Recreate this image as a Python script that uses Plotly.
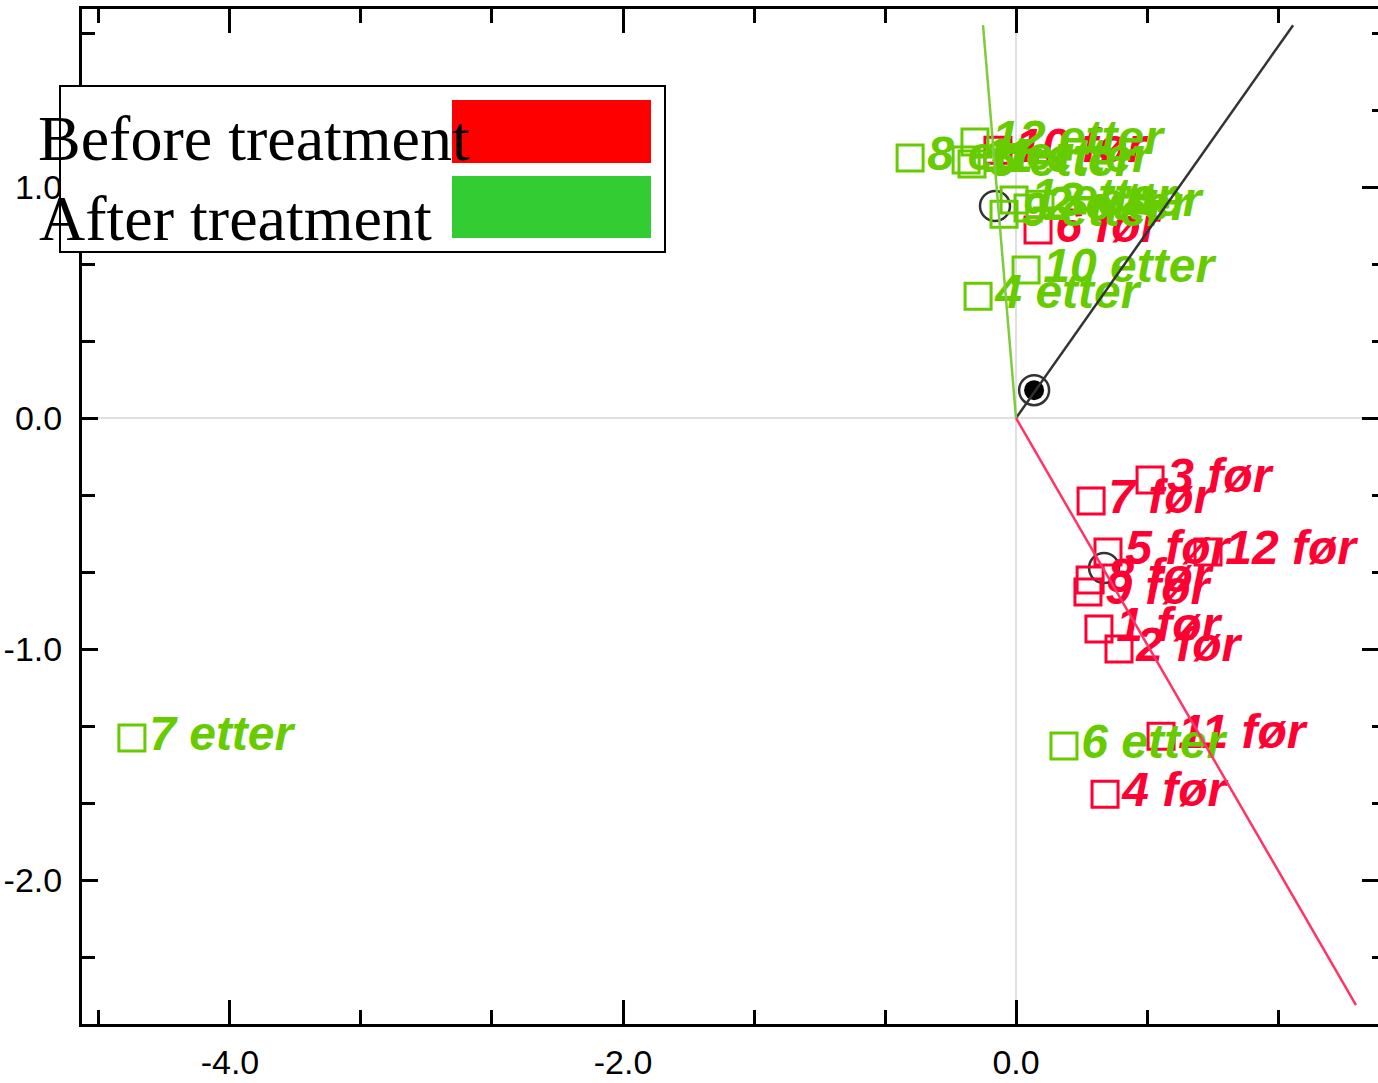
import plotly.graph_objects as go

# ---------------- data ----------------
before_labels = ["1 før", "2 før", "3 før", "4 før", "5 før", "6 før",
                 "7 før", "8 før", "9 før", "10 før", "11 før", "12 før"]
before_x = [0.422, 0.524, 0.682, 0.453, 0.468, 0.112, 0.382, 0.377, 0.366, -0.092, 0.738, 0.977]
before_y = [-0.913, -1.000, -0.268, -1.628, -0.580, 0.814, -0.359, -0.701, -0.753, 1.160, -1.377, -0.580]

after_labels = ["1 etter", "2 etter", "3 etter", "4 etter", "5 etter", "6 etter",
                "7 etter", "8 etter", "9 etter", "10 etter", "11 etter", "12 etter"]
after_x = [-0.010, 0.061, 0.122, -0.193, -0.224, 0.244, -4.499, -0.539, -0.061, 0.051, -0.254, -0.209]
after_y = [0.944, 0.909, 0.926, 0.528, 1.100, -1.420, -1.385, 1.126, 0.883, 0.641, 1.117, 1.195]

# loading vectors (end points) and loading markers
vec_end_x = [1.410, -0.168, 1.730]
vec_end_y = [1.701, 1.701, -2.541]
vec_colors = ["#333333", "#7fcc3a", "#ff3366"]
load_x = [0.092, -0.107, 0.448]
load_y = [0.121, 0.918, -0.649]

# axis tick labels
x_tickvals = [-4, -2, 0]
x_ticktext = ["-4.0", "-2.0", "0.0"]
y_tickvals = [-2, -1, 0, 1]
y_ticktext = ["-2.0", "-1.0", "0.0", "1.0"]

legend_names = ["Before treatment", "After treatment"]
legend_colors = ["#ff0000", "#33cc33"]

RED = "#ff0033"
GREEN = "#66cc00"

X_RANGE = [-4.753, 1.842]
Y_RANGE = [-2.623, 1.771]

# ---------------- figure ----------------
fig = go.Figure()

for ex, ey, c in zip(vec_end_x, vec_end_y, vec_colors):
    fig.add_trace(go.Scatter(x=[0, ex], y=[0, ey], mode="lines",
                             line=dict(color=c, width=2.5), hoverinfo="skip",
                             yaxis="y2"))

fig.add_trace(go.Scatter(x=load_x, y=load_y, mode="markers",
                         marker=dict(symbol="circle-open", size=30, color="#333333",
                                     line=dict(width=2.5, color="#333333")),
                         hoverinfo="skip"))
fig.add_trace(go.Scatter(x=load_x[:1], y=load_y[:1], mode="markers",
                         marker=dict(symbol="circle", size=20, color="#000000"),
                         hoverinfo="skip"))

lab_font = dict(family="Liberation Sans, Arial, sans-serif", size=48,
                style="italic", weight="bold")

fig.add_trace(go.Scatter(x=before_x, y=before_y, text=before_labels,
                         mode="markers+text", textposition="middle right",
                         textfont=dict(color=RED, **lab_font),
                         marker=dict(symbol="square-open", size=26, color=RED,
                                     line=dict(width=3, color=RED)),
                         cliponaxis=False))
fig.add_trace(go.Scatter(x=after_x, y=after_y, text=after_labels,
                         mode="markers+text", textposition="middle right",
                         textfont=dict(color=GREEN, **lab_font),
                         marker=dict(symbol="square-open", size=26, color=GREEN,
                                     line=dict(width=3, color=GREEN)),
                         cliponaxis=False))

# ---------------- legend (custom box) ----------------
L, T, W, H = 82, 9, 1296, 1015


def px(xp):
    return (xp - L) / W


def py(yp):
    return (T + H - yp) / H


shapes = [
    dict(type="rect", xref="paper", yref="paper", x0=px(60), x1=px(665), y0=py(252), y1=py(86),
         fillcolor="white", line=dict(color="black", width=2), layer="above"),
    dict(type="rect", xref="paper", yref="paper", x0=px(452), x1=px(651), y0=py(163), y1=py(100),
         fillcolor=legend_colors[0], line=dict(width=0), layer="above"),
    dict(type="rect", xref="paper", yref="paper", x0=px(452), x1=px(651), y0=py(238), y1=py(176),
         fillcolor=legend_colors[1], line=dict(width=0), layer="above"),
]
annotations = [
    dict(text=legend_names[0], xref="paper", yref="paper", x=px(36), y=py(139),
         xanchor="left", yanchor="middle", showarrow=False,
         font=dict(family="Liberation Serif, Times New Roman, serif", size=64, color="black")),
    dict(text=legend_names[1], xref="paper", yref="paper", x=px(37), y=py(219),
         xanchor="left", yanchor="middle", showarrow=False,
         font=dict(family="Liberation Serif, Times New Roman, serif", size=64, color="black")),
]

tick_font = dict(family="Liberation Sans Narrow, Arial Narrow, Liberation Sans, sans-serif",
                 size=34, color="black")

fig.update_layout(
    width=1378, height=1083,
    margin=dict(l=L, r=0, t=T, b=1083 - T - H, autoexpand=False),
    paper_bgcolor="white", plot_bgcolor="white",
    showlegend=False,
    shapes=shapes, annotations=annotations,
    xaxis=dict(range=X_RANGE, tickmode="array", tickvals=x_tickvals, ticktext=x_ticktext,
               ticks="inside", ticklen=24, tickwidth=3, tickcolor="black",
               minor=dict(ticks="inside", dtick=2 / 3, tick0=0, ticklen=14,
                          tickwidth=3, tickcolor="black"),
               showline=True, linewidth=3, linecolor="black", mirror="ticks",
               showgrid=False, zeroline=True, zerolinecolor="#e0e0e0", zerolinewidth=2,
               tickfont=tick_font, ticklabelstandoff=6, automargin=False),
    yaxis=dict(range=Y_RANGE, tickmode="array", tickvals=y_tickvals, ticktext=y_ticktext,
               ticks="inside", ticklen=16, tickwidth=3, tickcolor="black",
               minor=dict(ticks="inside", dtick=1 / 3, tick0=0, ticklen=13,
                          tickwidth=3, tickcolor="black"),
               showline=True, linewidth=3, linecolor="black", mirror=False,
               showgrid=False, zeroline=True, zerolinecolor="#e0e0e0", zerolinewidth=2,
               tickfont=tick_font, ticklabelstandoff=10, automargin=False),
    yaxis2=dict(range=Y_RANGE, overlaying="y", side="right", tickmode="array", tickvals=y_tickvals,
                ticks="inside", ticklen=16, tickwidth=3, tickcolor="black",
                minor=dict(ticks="inside", dtick=1 / 3, tick0=0, ticklen=6,
                           tickwidth=3, tickcolor="black"),
                showticklabels=False, showline=False, showgrid=False, zeroline=False,
                automargin=False),
)

fig.write_html("out.html")
